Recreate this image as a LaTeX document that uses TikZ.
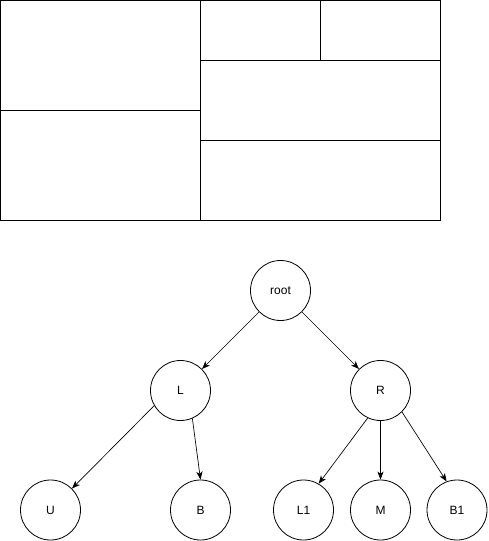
\documentclass[tikz,border=0pt]{standalone}
\usepackage{fontspec}
\setmainfont{Liberation Sans}
\usetikzlibrary{arrows.meta,positioning}
\tikzset{
  block/.style={draw=black,line width=0.8pt},
  treenode/.style={circle,draw=black,line width=0.6pt,minimum size=45pt,
                   inner sep=0pt,font=\fontsize{9}{11}\selectfont},
  treearr/.style={-{Stealth[length=6pt,width=4.6pt,inset=1.6pt]},
                  line width=0.5pt,draw=black}
}
\begin{document}
\begin{tikzpicture}[x=0.75pt,y=-0.75pt]
    \path[use as bounding box] (0,0) rectangle (488,541);
    % partition of the plane
    \draw[block] (0.5,0.5) rectangle (440.5,220.5);
    \draw[block] (200.5,0.5) -- (200.5,220.5);
    \draw[block] (0.5,110.5) -- (200.5,110.5);
    \draw[block] (320.5,0.5) -- (320.5,60.5);
    \draw[block] (200.5,60.5) -- (440.5,60.5);
    \draw[block] (200.5,140.5) -- (440.5,140.5);

    % tree
    \node[treenode] (root) at (280.5,290.5) {root};
    \node[treenode] (l) at (180.5,390.5) {L};
    \node[treenode] (r) at (380.5,390.5) {R};
    \node[treenode] (u) at (50.5,510) {U};
    \node[treenode] (b) at (200.5,510) {B};
    \node[treenode] (lone) at (303.5,510) {L1};
    \node[treenode] (m) at (380.5,510) {M};
    \node[treenode] (bone) at (457,510) {B1};
    \draw[treearr] (root.225) -- (l.45);
    \draw[treearr] (root.315) -- (r.135);
    \draw[treearr] (l.210) -- (u.45);
    \draw[treearr] (l.293) -- (b.north);
    \draw[treearr] (r.245) -- (lone.60);
    \draw[treearr] (r.south) -- (m.north);
    \draw[treearr] (r.315) -- (bone.110);
  \end{tikzpicture}
\end{document}
